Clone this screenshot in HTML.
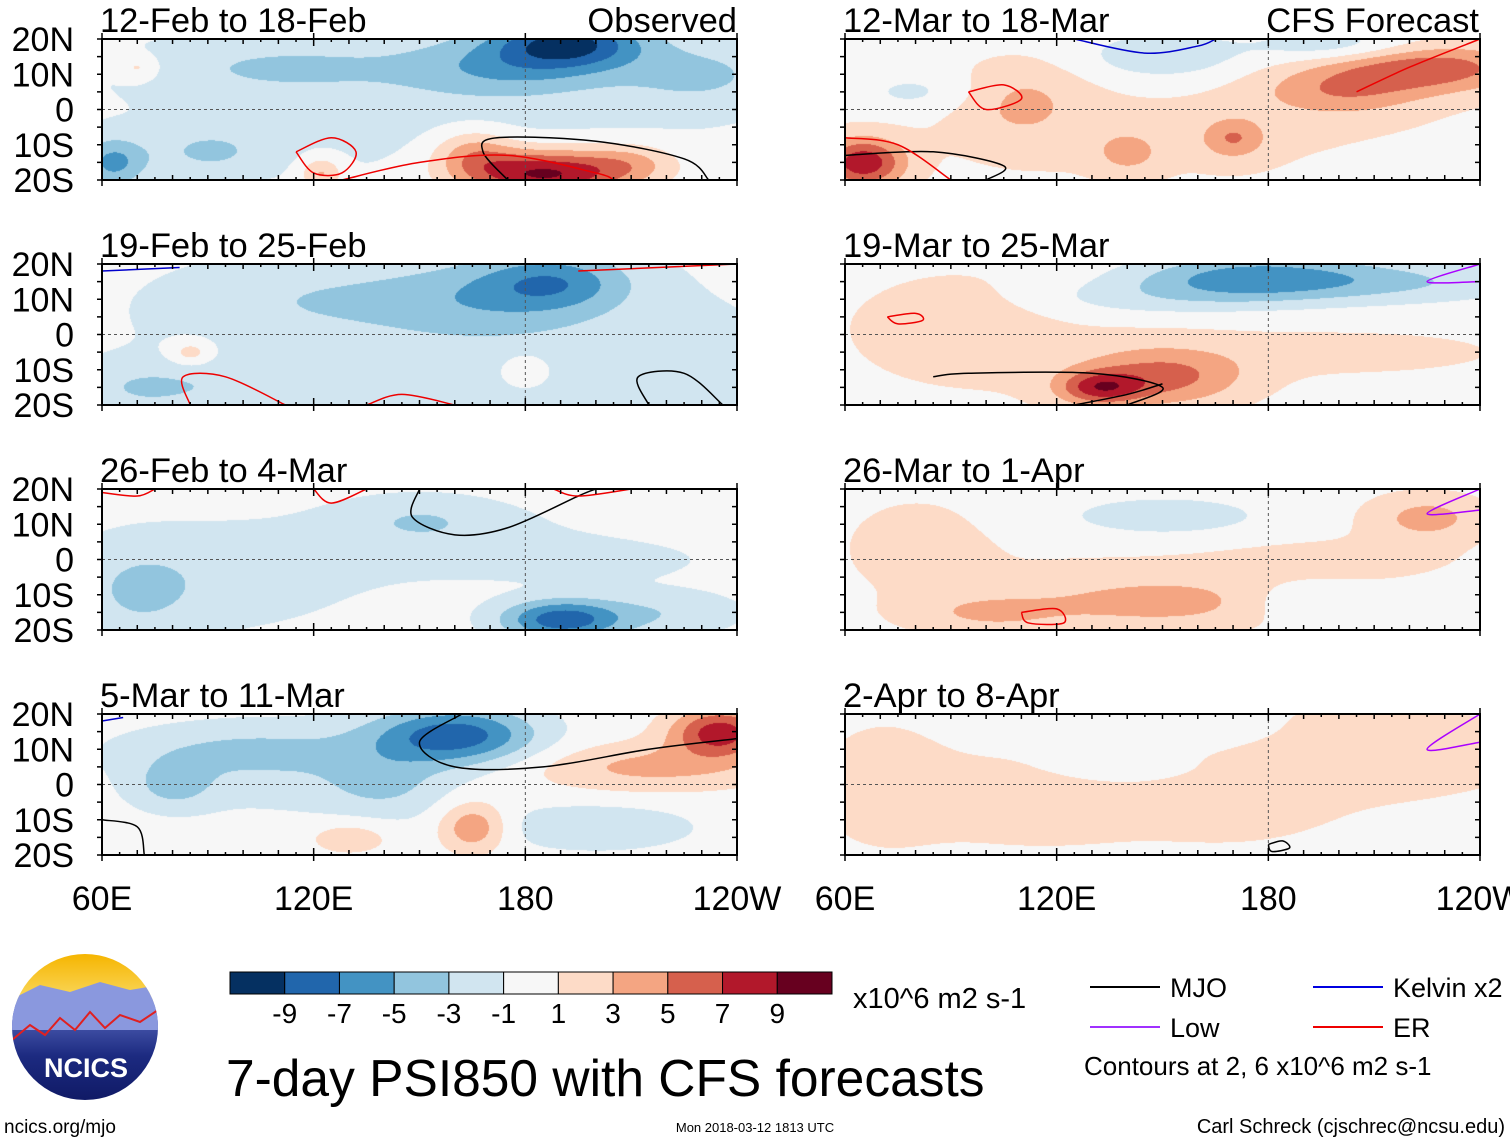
<!DOCTYPE html>
<html><head><meta charset="utf-8">
<style>
body{margin:0;background:#fff;width:1510px;height:1142px;overflow:hidden;position:relative;font-family:"Liberation Sans",sans-serif}
canvas{position:absolute}
svg{position:absolute;left:0;top:0}
</style></head>
<body>
<svg id="s" width="1510" height="1142"></svg>
<script>
const panelTitles=["12-Feb to 18-Feb","19-Feb to 25-Feb","26-Feb to 4-Mar","5-Mar to 11-Mar","12-Mar to 18-Mar","19-Mar to 25-Mar","26-Mar to 1-Apr","2-Apr to 8-Apr"];
const latTicks=["20N","10N","0","10S","20S"];
const lonTicks=["60E","120E","180","120W"];
const levels=[-9,-7,-5,-3,-1,1,3,5,7,9];
const colors=["#053061","#2166ac","#4393c3","#92c5de","#d1e5f0","#f7f7f7","#fddbc7","#f4a582","#d6604d","#b2182b","#67001f"];
// anomaly blobs: [lon, lat, sigmaLon, sigmaLat, amplitude]
const blobs0=[[150,5,90,25,-1.8],[192,19,18,6,-8],[175,12,25,7,-3.5],[110,12,30,6,-2],[230,10,20,8,-2.5],[63,-15,8,6,-5],[90,-12,15,6,-2.5],[185,-18,20,6,10],[165,-12,10,6,4],[210,-15,12,5,3],[122,-18,5,4,4],[70,12,5,3,2.5]];
const blobs1=[[150,0,90,30,-1.7],[188,15,18,7,-5],[165,10,25,9,-2.5],[120,10,30,8,-1.5],[100,-15,25,6,-1.5],[210,-10,40,15,-1],[70,-15,15,6,-2],[180,-10,6,4,3],[85,-5,5,3,3]];
const blobs2=[[90,-5,40,15,-2],[160,5,40,10,-1.5],[190,-17,15,5,-8],[70,-10,15,12,-2],[220,-15,20,6,-2.5],[150,12,20,6,-2],[200,0,30,5,-1.5]];
const blobs3=[[110,5,40,12,-2],[160,14,20,7,-8],[140,0,15,8,-2.5],[80,0,10,6,-3],[100,10,30,6,-2],[200,-12,25,6,-2.5],[235,15,12,6,8],[215,5,30,6,3.5],[165,-12,8,6,5],[130,-15,10,4,2.5]];
const blobs4=[[150,-5,90,20,1.3],[225,12,25,6,6],[200,5,20,6,3.5],[65,-15,10,6,8],[110,2,15,10,2.5],[170,-8,8,5,4],[140,-12,8,5,3],[150,15,20,6,-3],[200,18,20,4,-3],[80,5,15,5,-2]];
const blobs5=[[120,0,60,25,1.2],[150,-12,20,7,5],[132,-15,10,4,6],[90,2,20,10,2],[210,-5,40,6,1.5],[175,16,30,6,-6.5],[140,10,30,5,-2],[220,15,30,5,-2.5]];
const blobs6=[[140,-5,80,20,1.1],[225,12,15,6,3.5],[150,-12,30,6,3],[100,-15,20,5,2.5],[80,5,15,10,1.8],[200,0,30,5,1.2],[150,12,30,6,-2.5],[190,-12,15,5,-2]];
const blobs7=[[150,0,90,25,1.0],[70,0,15,15,1.5],[110,-5,30,10,1.2],[210,10,40,10,2],[170,-5,20,8,1.2],[150,15,30,5,-2],[140,5,20,4,-1.5]];
const allBlobs=[blobs0,blobs1,blobs2,blobs3,blobs4,blobs5,blobs6,blobs7];
// contour lines: [color, points]
const lines0=[["#000",[[175,-20],[168,-12],[172,-8],[200,-9],[225,-14],[232,-20]]],["#e00",[[128,-20],[150,-15],[175,-13],[200,-18],[205,-20]]],["#e00",[[115,-12],[125,-8],[132,-12],[128,-18],[120,-18],[115,-12]]]];
const lines1=[["#000",[[215,-20],[212,-12],[225,-11],[236,-20]]],["#e00",[[85,-20],[83,-12],[95,-12],[112,-20]]],["#e00",[[135,-20],[145,-17],[160,-20]]],["#00c",[[60,18],[82,19]]],["#e00",[[195,18],[240,20]]]];
const lines2=[["#000",[[150,20],[148,12],[160,7],[175,9],[195,18],[200,20]]],["#e00",[[60,19],[70,18],[75,20]]],["#e00",[[120,20],[125,16],[135,20]]],["#e00",[[188,20],[195,18],[210,20]]]];
const lines3=[["#000",[[162,20],[150,12],[160,5],[185,5],[215,10],[240,13]]],["#000",[[60,-10],[70,-12],[72,-20]]],["#00c",[[60,18],[66,19]]]];
const lines4=[["#000",[[60,-13],[85,-12],[105,-16],[100,-20]]],["#e00",[[60,-8],[75,-10],[90,-20]]],["#e00",[[205,5],[220,12],[240,20]]],["#00c",[[125,20],[145,16],[160,18],[165,20]]],["#e00",[[95,5],[105,7],[110,3],[100,0],[95,5]]]];
const lines5=[["#000",[[85,-12],[95,-11],[130,-11],[150,-15],[140,-20]]],["#000",[[125,-20],[140,-17],[150,-14]]],["#a0f",[[240,20],[225,15],[240,15]]],["#e00",[[72,5],[80,6],[82,4],[75,3],[72,5]]]];
const lines6=[["#a0f",[[240,20],[225,13],[240,14]]],["#e00",[[110,-15],[120,-14],[122,-18],[112,-18],[110,-15]]]];
const lines7=[["#a0f",[[240,20],[225,10],[240,12]]],["#000",[[180,-17],[184,-16],[186,-18],[181,-19],[180,-17]]]];
const allLines=[lines0,lines1,lines2,lines3,lines4,lines5,lines6,lines7];

const W=635,H=141;
const panelX=[102,845],panelY=[39,264,489,714];
const xs=lon=>(lon-60)/180*W, ys=lat=>(20-lat)/40*H;
const svg=document.getElementById('s');
const NS="http://www.w3.org/2000/svg";
function mk(tag,attrs,txt){const e=document.createElementNS(NS,tag);for(const k in attrs)e.setAttribute(k,attrs[k]);if(txt!=null)e.textContent=txt;svg.appendChild(e);return e;}
function colorFor(v){let i=0;while(i<levels.length&&v>levels[i])i++;return colors[i];}
function hex(c){return[parseInt(c.slice(1,3),16),parseInt(c.slice(3,5),16),parseInt(c.slice(5,7),16)];}
function smooth(P){let d=`M${P[0][0]},${P[0][1]}`;for(let i=0;i<P.length-1;i++){const p0=P[Math.max(i-1,0)],p1=P[i],p2=P[i+1],p3=P[Math.min(i+2,P.length-1)];
 d+=` C${p1[0]+(p2[0]-p0[0])/6},${p1[1]+(p2[1]-p0[1])/6} ${p2[0]-(p3[0]-p1[0])/6},${p2[1]-(p3[1]-p1[1])/6} ${p2[0]},${p2[1]}`;}return d;}

for(let p=0;p<8;p++){
  const col=p<4?0:1,row=p%4,x0=panelX[col],y0=panelY[row];
  const cv=document.createElement('canvas');cv.width=W;cv.height=H;
  cv.style.left=x0+'px';cv.style.top=y0+'px';
  
  
  document.body.insertBefore(cv,svg);
  const ctx=cv.getContext('2d'),img=ctx.createImageData(W,H),b=allBlobs[p];
  for(let y=0;y<H;y++){const lat=20-y/H*40;for(let x=0;x<W;x++){const lon=60+x/W*180;let v=0;
    for(const q of b){const dx=(lon-q[0])/(q[2]*1.15),dy=(lat-q[1])/(q[3]*1.15);v+=q[4]*Math.exp(-(dx*dx+dy*dy));}
    const c=hex(colorFor(v)),i=(y*W+x)*4;img.data[i]=c[0];img.data[i+1]=c[1];img.data[i+2]=c[2];img.data[i+3]=255;}}
  ctx.putImageData(img,0,0);
  const g=mk('g',{transform:`translate(${x0},${y0})`});
  
  
  const add=(tag,a,t)=>{const e=mk(tag,a,t);g.appendChild(e);return e;};
  add('line',{x1:0,x2:W,y1:ys(0),y2:ys(0),stroke:'#555','stroke-dasharray':'3,3','stroke-width':1});
  add('line',{x1:xs(180),x2:xs(180),y1:0,y2:H,stroke:'#555','stroke-dasharray':'3,3','stroke-width':1});
  for(const [c,pts] of allLines[p]){
    const l=add('path',{d:smooth(pts.map(q=>[xs(q[0]),ys(q[1])])),fill:'none',stroke:c,'stroke-width':1.5});
    
  }
  add('rect',{x:0,y:0,width:W,height:H,fill:'none',stroke:'#000','stroke-width':2});
  for(let lon=60;lon<=240;lon+=5){const t=lon%60==0?7:lon%10==0?5:3;
    add('line',{x1:xs(lon),x2:xs(lon),y1:0,y2:t,stroke:'#000','stroke-width':1.5});
    add('line',{x1:xs(lon),x2:xs(lon),y1:H,y2:H-t,stroke:'#000','stroke-width':1.5});
    if(lon%60==0){add('line',{x1:xs(lon),x2:xs(lon),y1:H,y2:H+6,stroke:'#000','stroke-width':1.5});add('line',{x1:xs(lon),x2:xs(lon),y1:0,y2:-6,stroke:'#000','stroke-width':1.5});}}
  for(let lat=-20;lat<=20;lat+=5){add('line',{x1:-5,x2:W+5,y1:ys(lat),y2:ys(lat),stroke:'#000','stroke-width':1.5,'stroke-dasharray':`5,${W-5}`});}
  const tt=add('text',{x:-2,y:-7,'font-size':34.5,fill:'#000'},panelTitles[p]);
  
  if(col==0){latTicks.forEach((t,i)=>{const e=add('text',{x:-28,y:ys(20-i*10)+12,'font-size':34,'text-anchor':'end',fill:'#000'},t);});}
  if(p==0){const e=add('text',{x:W,y:-7,'font-size':34.5,'text-anchor':'end'},'Observed');}
  if(p==4){const e=add('text',{x:W-1,y:-7,'font-size':34.5,'text-anchor':'end'},'CFS Forecast');}
  if(row==3){lonTicks.forEach((t,i)=>{const e=add('text',{x:xs(60+i*60),y:H+55,'font-size':34,'text-anchor':'middle'},t);});}
}
// colorbar
const cbx=230,cby=972,cbw=602/11;
colors.forEach((c,i)=>{const r=mk('rect',{x:cbx+i*cbw,y:cby,width:cbw,height:22,fill:c,stroke:'#000','stroke-width':1});});
levels.forEach((l,i)=>{const t=mk('text',{x:cbx+(i+1)*cbw,y:1023,'font-size':28,'text-anchor':'middle'},String(l));});
let e=mk('text',{x:853,y:1008,'font-size':29},'x10^6 m2 s-1');
e=mk('text',{x:226,y:1096,'font-size':51.5},'7-day PSI850 with CFS forecasts');
// legend
const leg=[["#000","MJO",1090,987],["#0000e0","Kelvin x2",1313,987],["#a030ff","Low",1090,1027],["#e00","ER",1313,1027]];
leg.forEach(([c,t,x,y])=>{let l=mk('line',{x1:x,x2:x+70,y1:y,y2:y,stroke:c,'stroke-width':2});
 let tx=mk('text',{x:x+80,y:y+10,'font-size':27},t);});
e=mk('text',{x:1084,y:1075,'font-size':26},'Contours at 2, 6 x10^6 m2 s-1');
e=mk('text',{x:4,y:1133,'font-size':19},'ncics.org/mjo');
e=mk('text',{x:755,y:1132,'font-size':13,'text-anchor':'middle'},'Mon 2018-03-12 1813 UTC');
e=mk('text',{x:1505,y:1133,'font-size':20,'text-anchor':'end'},'Carl Schreck (cjschrec@ncsu.edu)');
// logo
const defs=mk('defs',{});defs.innerHTML='<linearGradient id="lg" x1="0" y1="0" x2="0" y2="1"><stop offset="0" stop-color="#f6b500"/><stop offset="0.3" stop-color="#f9d65a"/><stop offset="0.35" stop-color="#5a6bc0"/><stop offset="0.7" stop-color="#1c2a80"/><stop offset="1" stop-color="#101a66"/></linearGradient><clipPath id="cc"><circle cx="85" cy="1027" r="73"/></clipPath>';
e=mk('circle',{cx:85,cy:1027,r:73,fill:'url(#lg)'});
e=mk('path',{d:'M10 1000 L40 985 L70 992 L100 982 L130 990 L160 985 L160 1030 L10 1030Z',fill:'#8a98de','clip-path':'url(#cc)'});
e=mk('polyline',{points:'12,1040 30,1025 45,1035 60,1018 75,1030 90,1012 105,1028 120,1015 140,1022 158,1010',fill:'none',stroke:'#e02020','stroke-width':2,'clip-path':'url(#cc)'});
e=mk('text',{x:86,y:1077,'font-size':27,'font-weight':'bold','text-anchor':'middle',fill:'#fff'},'NCICS');
</script>
</body></html>
